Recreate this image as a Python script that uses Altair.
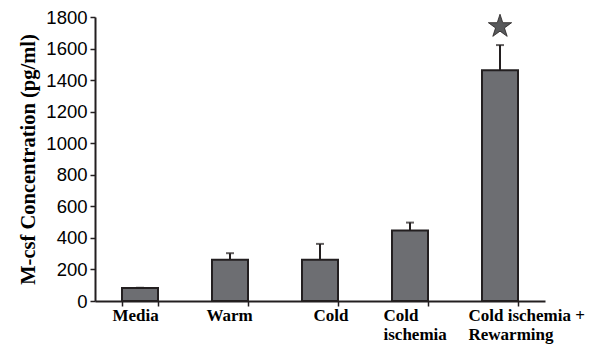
import altair as alt
import pandas as pd

categories = ["Media", "Warm", "Cold", "Cold ischemia", "Cold ischemia + Rewarming"]
means = [82, 262, 262, 447, 1463]
upper = [84, 303, 362, 497, 1622]
y_ticks = [0, 200, 400, 600, 800, 1000, 1200, 1400, 1600, 1800]
star_cat = ["Cold ischemia + Rewarming"]
star_y = [1740]

df = pd.DataFrame({"cat": categories, "mean": means, "upper": upper})
star_df = pd.DataFrame({"cat": star_cat, "y": star_y})

label_expr = ("datum.value == 'Cold ischemia' ? ['Cold', 'ischemia'] : "
              "datum.value == 'Cold ischemia + Rewarming' ? ['Cold ischemia +', 'Rewarming'] : datum.value")

xscale = alt.Scale(domain=categories, paddingInner=0.6, paddingOuter=0.3)
yscale = alt.Scale(domain=[0, 1800], nice=False)

xaxis = alt.Axis(labelExpr=label_expr, labelAngle=0, labelFont="Liberation Serif",
                 labelFontWeight="bold", labelFontSize=17, labelColor="black",
                 labelAlign="left", labelBaseline="top", labelLineHeight=19.5,
                 labelOffset={"expr": "datum.value == 'Media' ? -28 : datum.value == 'Warm' ? -24 : datum.value == 'Cold' ? -7 : datum.value == 'Cold ischemia' ? -27 : -32"},
                 labelPadding=1, labelOverlap=False, labelBound=False, labelFlush=False,
                 tickBand="extent", tickSize=5, tickColor="#231f20",
                 tickWidth=1.5, domainColor="#231f20", domainWidth=2)
yaxis = alt.Axis(values=y_ticks, format="d", labelOverlap=False, tickCount=10,
                 grid=False, labelFont="Liberation Sans",
                 labelFontSize=18.5, labelColor="black", tickSize=5, tickColor="#231f20",
                 tickWidth=1.5, labelPadding=3, domainColor="#231f20", domainWidth=2,
                 titleFont="Liberation Serif", titleFontWeight="bold", titleFontSize=20.5,
                 titleColor="black", titlePadding=7)

ytitle = "M-csf Concentration (pg/ml)"
x = alt.X("cat:N", scale=xscale, sort=categories, title=None, axis=xaxis)

bars = alt.Chart(df).mark_bar(color="#6d6e72", stroke="#231f20", strokeWidth=2).encode(
    x=x,
    y=alt.Y("mean:Q", scale=yscale, title=ytitle, axis=yaxis),
)

err = alt.Chart(df).mark_rule(color="#231f20", strokeWidth=2).encode(
    x=x,
    y=alt.Y("mean:Q", scale=yscale, title=ytitle, axis=yaxis),
    y2="upper:Q",
)
caps = alt.Chart(df).mark_tick(color="#231f20", thickness=2, size=8, orient="horizontal").encode(
    x=x,
    y=alt.Y("upper:Q", scale=yscale, title=ytitle, axis=yaxis),
)

star_path = "M0,-1 L0.2245,-0.309 L0.951,-0.309 L0.363,0.118 L0.588,0.809 L0,0.382 L-0.588,0.809 L-0.363,0.118 L-0.951,-0.309 L-0.2245,-0.309 Z"
star = alt.Chart(star_df).mark_point(shape=star_path, filled=True, fill="#58595b", stroke="#231f20",
                                     strokeWidth=0.8, size=600, opacity=1).encode(
    x=x,
    y=alt.Y("y:Q", scale=yscale, title=ytitle, axis=yaxis),
)

chart = alt.layer(bars, err, caps, star).properties(
    width=450, height=284,
    autosize=alt.AutoSizeParams(type="none"),
    padding={"left": 87, "top": 9, "right": 57, "bottom": 43},
).configure_view(stroke=None)

chart.save("out.html", embed_options={"renderer": "svg", "actions": False})
